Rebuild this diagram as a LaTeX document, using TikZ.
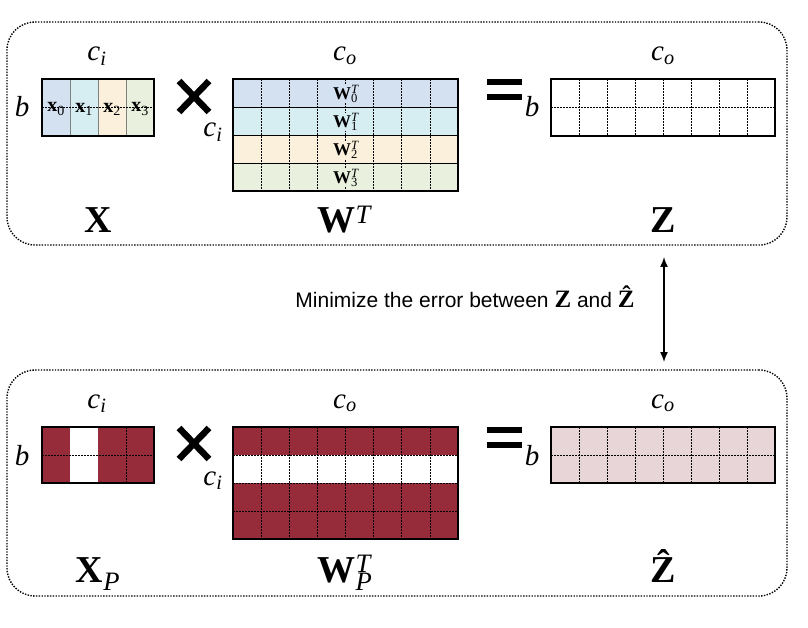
\documentclass[tikz,border=0pt]{standalone}
\usepackage{fontspec}
\setmainfont{Liberation Serif}
\newfontfamily\sansf{Liberation Sans}
\usetikzlibrary{arrows.meta}
\definecolor{cblue}{RGB}{212,225,241}
\definecolor{ccyan}{RGB}{214,238,242}
\definecolor{corange}{RGB}{251,240,220}
\definecolor{cgreen}{RGB}{233,241,222}
\definecolor{cred}{RGB}{150,43,58}
\definecolor{cpink}{RGB}{232,213,215}
\tikzset{
  frame/.style={draw, line width=1.4pt, dash pattern=on 1.4pt off 1.4pt, rounded corners=28pt},
  mat/.style={draw, line width=1.3pt, inner sep=0pt, fill=none},
  gdot/.style={line width=0.6pt, dash pattern=on 1.6pt off 1.4pt},
  gsolid/.style={line width=0.7pt},
  dimlab/.style={font=\fontsize{29}{29}\selectfont, anchor=base, inner sep=0pt},
  biglab/.style={font=\fontsize{38}{38}\selectfont, anchor=base, inner sep=0pt},
  cell/.style={font=\fontsize{20}{20}\selectfont, inner sep=0pt},
  wcell/.style={font=\fontsize{18}{18}\selectfont, inner sep=0.5pt},
}
\newcommand{\ci}{\textit{c\textsubscript{i}}}
\newcommand{\co}{\textit{c\textsubscript{o}}}
\begin{document}
\begin{tikzpicture}[x=1pt,y=-1pt]
\useasboundingbox (0,0) rectangle (808,628);
% frames
\node[frame, minimum width=780pt, minimum height=223pt, inner sep=0pt] (top) at (397,133.5) {};
\node[frame, minimum width=780pt, minimum height=226pt, inner sep=0pt] (bot) at (397,483) {};

% ===== top row =====
% X
\fill[cblue] (42,79) rectangle (70,136);
\fill[ccyan] (70,79) rectangle (98,136);
\fill[corange] (98,79) rectangle (126,136);
\fill[cgreen] (126,79) rectangle (154,136);
\foreach \x in {70,98,126} \draw[gsolid, gray] (\x,79) -- (\x,136);
\draw[gdot] (42,107.5) -- (154,107.5);
\node[mat, minimum width=112pt, minimum height=57pt] (X) at (98,107.5) {};
\node[cell] (x0) at (56,109) {\textbf{x}\textsubscript{0}};
\node[cell] (x1) at (84,109) {\textbf{x}\textsubscript{1}};
\node[cell] (x2) at (112,109) {\textbf{x}\textsubscript{2}};
\node[cell] (x3) at (140,109) {\textbf{x}\textsubscript{3}};
\node[dimlab] (Xci) at (97,61) {\ci};
\node[dimlab] (Xb) at (22,117) {\textit{b}};
\node[biglab] (Xl) at (98,233) {\textbf{X}};

% times
\draw[line width=6.5pt] (179,81) -- (209,112) (179,112) -- (209,81);

% W^T
\fill[cblue] (233,79) rectangle (458,107);
\fill[ccyan] (233,107) rectangle (458,135);
\fill[corange] (233,135) rectangle (458,163);
\fill[cgreen] (233,163) rectangle (458,191);
\foreach \k in {1,...,7} \draw[gdot] ({233+28.125*\k},79) -- ({233+28.125*\k},191);
\foreach \y in {107,135,163} \draw[gsolid] (233,\y) -- (458,\y);
\node[mat, minimum width=225pt, minimum height=112pt] (W) at (345.5,135) {};
\node[wcell, fill=cblue] (w0) at (345.5,94) {\textbf{W}\rlap{\textsuperscript{\textit{T}}}\textsubscript{0}};
\node[wcell, fill=ccyan] (w1) at (345.5,122) {\textbf{W}\rlap{\textsuperscript{\textit{T}}}\textsubscript{1}};
\node[wcell, fill=corange] (w2) at (345.5,150) {\textbf{W}\rlap{\textsuperscript{\textit{T}}}\textsubscript{2}};
\node[wcell, fill=cgreen] (w3) at (345.5,178) {\textbf{W}\rlap{\textsuperscript{\textit{T}}}\textsubscript{3}};
\node[dimlab] (Wco) at (345,61) {\co};
\node[dimlab] (Wci) at (213,137) {\ci};
\node[biglab] (Wl) at (345,233) {\textbf{W}\textsuperscript{\textit{T}}};

% equals
\fill (487,79) rectangle (522,85);
\fill (487,94) rectangle (522,100);

% Z
\foreach \k in {1,...,7} \draw[gdot] ({551+28*\k},79) -- ({551+28*\k},136);
\draw[gdot] (551,107.5) -- (775,107.5);
\node[mat, minimum width=224pt, minimum height=57pt] (Z) at (663,107.5) {};
\node[dimlab] (Zco) at (663,61) {\co};
\node[dimlab] (Zb) at (532,117) {\textit{b}};
\node[biglab] (Zl) at (663,233) {\textbf{Z}};

% arrow and text
\coordinate (aTop) at (664,257);
\coordinate (aBot) at (664,362);
\draw[line width=1.5pt, {Latex[length=10pt,width=8pt]}-{Latex[length=10pt,width=8pt]}] (aTop) -- (aBot);
\node[anchor=base, inner sep=0pt, font=\sansf\fontsize{21}{21}\selectfont] (msg) at (465,307)
  {Minimize the error between {\rmfamily\fontsize{25}{25}\selectfont\textbf{Z}} and {\rmfamily\fontsize{25}{25}\selectfont\textbf{\^{Z}}}};

% ===== bottom row =====
% X_P
\fill[cred] (42,427) rectangle (70,483);
\fill[cred] (98,427) rectangle (154,483);
\draw[gdot] (126,427) -- (126,483);
\draw[gdot] (42,455) -- (154,455);
\node[mat, minimum width=112pt, minimum height=56pt] (XP) at (98,455) {};
\node[dimlab] (XPci) at (97,408) {\ci};
\node[dimlab] (XPb) at (22,465) {\textit{b}};
\node[biglab] (XPl) at (98,582) {\textbf{X}\textsubscript{\textit{P}}};

% times
\draw[line width=6.5pt] (179,428) -- (209,459) (179,459) -- (209,428);

% W_P^T
\fill[cred] (233,427) rectangle (458,455);
\fill[cred] (233,483) rectangle (458,539);
\foreach \k in {1,...,7} \draw[gdot] ({233+28.125*\k},427) -- ({233+28.125*\k},539);
\foreach \y in {455,483,511} \draw[gdot] (233,\y) -- (458,\y);
\node[mat, minimum width=225pt, minimum height=112pt] (WP) at (345.5,483) {};
\node[dimlab] (WPco) at (345,408) {\co};
\node[dimlab] (WPci) at (213,485) {\ci};
\node[biglab] (WPl) at (345,582) {\textbf{W}\rlap{\textsuperscript{\textit{T}}}\textsubscript{\textit{P}}};

% equals
\fill (487,427) rectangle (522,433);
\fill (487,442) rectangle (522,448);

% Z hat
\fill[cpink] (551,427) rectangle (775,483);
\foreach \k in {1,...,7} \draw[gdot] ({551+28*\k},427) -- ({551+28*\k},483);
\draw[gdot] (551,455) -- (775,455);
\node[mat, minimum width=224pt, minimum height=56pt] (ZH) at (663,455) {};
\node[dimlab] (ZHco) at (663,408) {\co};
\node[dimlab] (ZHb) at (532,465) {\textit{b}};
\node[biglab] (ZHl) at (663,582) {\textbf{\^{Z}}};
\end{tikzpicture}
\end{document}
